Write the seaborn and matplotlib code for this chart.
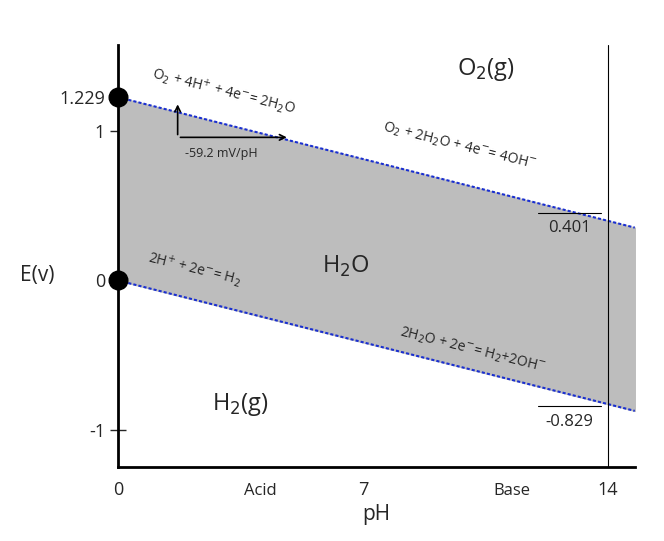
import matplotlib
matplotlib.use("Agg")
import matplotlib.pyplot as plt
import seaborn as sns
import numpy as np

sns.set_style("white")
plt.rcParams['font.family'] = ['Open Sans', 'DejaVu Sans']

ph = np.array([0, 14.77])
upper = 1.229 - 0.0592 * ph
lower = 0.0 - 0.0592 * ph
yticks = [-1, 0, 1, 1.229]
xticks = [0, 7, 14]

fig = plt.figure(figsize=(6.64, 5.41), dpi=100)
ax = fig.add_axes([0.178, 0.137, 0.778, 0.78])
ax.fill_between(ph, lower, upper, color="#bdbdbd", zorder=1)
sns.lineplot(x=ph, y=upper, ax=ax, color="#1a2fd0", linestyle=(0, (1.5, 1)), lw=1.5, zorder=2)
sns.lineplot(x=ph, y=lower, ax=ax, color="#1a2fd0", linestyle=(0, (1.5, 1)), lw=1.5, zorder=2)
ax.scatter([0, 0], [1.229, 0], s=180, color="black", zorder=5, clip_on=False)
ax.axvline(14, color="black", lw=0.8)
ax.set_xlim(0, 14.77)
ax.set_ylim(-1.25, 1.58)
for s in ["top", "right"]:
    ax.spines[s].set_visible(False)
for s in ["left", "bottom"]:
    ax.spines[s].set_linewidth(2)
    ax.spines[s].set_color("black")
ax.set_xticks(xticks)
ax.set_xticklabels(["0", "7", "14"], fontsize=13)
ax.set_yticks(yticks)
ax.set_yticklabels(["-1", "0", "1", "1.229"], fontsize=13)
ax.tick_params(axis="y", length=12, width=1, direction="inout", left=True)
ax.tick_params(axis="x", length=0, pad=10)
ax.set_xlabel("pH", fontsize=15)
fig.text(0.03, 0.49, "E(v)", fontsize=15, va="center")
ax.text(4.05, -1.41, "Acid", fontsize=12, ha="center", va="center", clip_on=False)
ax.text(11.26, -1.41, "Base", fontsize=12, ha="center", va="center", clip_on=False)
ax.text(10.5, 1.38, r"O$_2$(g)", fontsize=17, ha="center")
ax.text(6.5, 0.05, r"H$_2$O", fontsize=17, ha="center")
ax.text(3.5, -0.87, r"H$_2$(g)", fontsize=17, ha="center")
ax.text(0.9, 1.27, r"O$_2$ + 4H$^{+}$ + 4e$^{-}$= 2H$_2$O", fontsize=10, rotation=-14, va="center")
ax.text(7.5, 0.9, r"O$_2$ + 2H$_2$O + 4e$^{-}$= 4OH$^{-}$", fontsize=10, rotation=-14, va="center")
ax.text(0.8, 0.08, r"2H$^{+}$ + 2e$^{-}$= H$_2$", fontsize=10, rotation=-14, va="center")
ax.text(8.0, -0.47, r"2H$_2$O + 2e$^{-}$= H$_2$+2OH$^{-}$", fontsize=10, rotation=-14, va="center")
ax.annotate("", xy=(1.7, 1.2), xytext=(1.7, 0.96),
            arrowprops=dict(arrowstyle="->", lw=1.2, color="black"))
ax.annotate("", xy=(4.9, 0.96), xytext=(1.7, 0.96),
            arrowprops=dict(arrowstyle="->", lw=1.2, color="black"))
ax.text(1.9, 0.83, "-59.2 mV/pH", fontsize=9)
ax.plot([12.0, 13.8], [0.45, 0.45], color="black", lw=0.8)
ax.text(12.9, 0.35, "0.401", fontsize=12, ha="center", va="center")
ax.plot([12.0, 13.8], [-0.84, -0.84], color="black", lw=0.8)
ax.text(12.9, -0.95, "-0.829", fontsize=12, ha="center", va="center")
fig.savefig("out.png", dpi=100)
